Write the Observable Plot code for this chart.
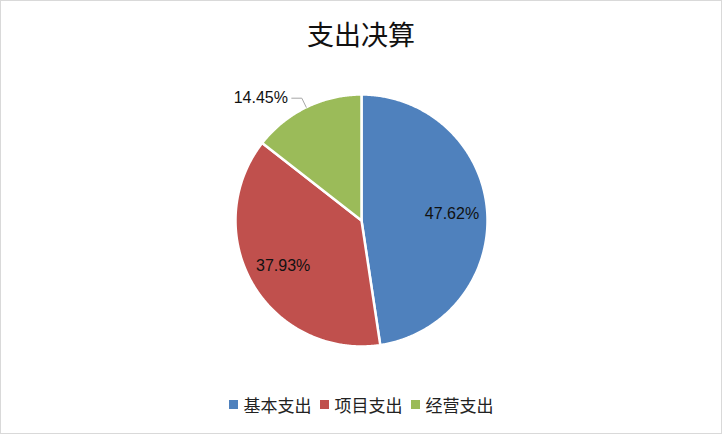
<!DOCTYPE html>
<html>
<head>
<meta charset="utf-8">
<script src="https://cdn.jsdelivr.net/npm/d3@7"></script>
<script src="https://cdn.jsdelivr.net/npm/@observablehq/plot@0.6"></script>
<style>
  html, body { margin: 0; padding: 0; background: #fff; }
  #chart { position: relative; width: 720px; height: 432px; border: 1px solid #d9d9d9; overflow: hidden; background: #fff; }
  #title { height: 66px; line-height: 66px; text-align: center; font-family: "Noto Sans CJK SC", sans-serif; font-size: 27px; color: #111; }
  #legend { display: flex; justify-content: center; align-items: center; gap: 8px; height: 58px; font-family: "Noto Sans CJK SC", sans-serif; font-size: 17px; color: #222; }
  .item { display: flex; align-items: center; gap: 6px; }
  .sw { width: 9px; height: 9px; display: inline-block; }
  svg { display: block; }
</style>
</head>
<body>
<div id="chart">
  <div id="title">支出决算</div>
  <div id="plot"></div>
  <div id="legend"></div>
</div>
<script>
const categories = ["基本支出", "项目支出", "经营支出"];
const values = [47.62, 37.93, 14.45];
const labels = ["47.62%", "37.93%", "14.45%"];
const colors = ["#4F81BD", "#C0504D", "#9BBB59"];

const W = 720, H = 308, R = 126, CX = 360, CY = 153;
const total = d3.sum(values);

// slice polygons (angle clockwise from 12 o'clock)
const slices = [];
let start = 0;
const pts = [];
values.forEach((v, i) => {
  const a0 = start, a1 = start + v / total * 2 * Math.PI;
  slices.push({name: categories[i], a0, a1, mid: (a0 + a1) / 2});
  pts.push({name: categories[i], x: 0, y: 0});
  const n = Math.max(2, Math.ceil((a1 - a0) / (Math.PI / 360)));
  for (let k = 0; k <= n; k++) {
    const a = a0 + (a1 - a0) * k / n;
    pts.push({name: categories[i], x: Math.sin(a), y: Math.cos(a)});
  }
  start = a1;
});

const inside = slices.slice(0, 2).map((s, i) => ({
  label: labels[i], x: 0.72 * Math.sin(s.mid), y: 0.72 * Math.cos(s.mid)
}));
const g = slices[2];
const e1 = {x: Math.sin(g.mid), y: Math.cos(g.mid)};
const e2 = {x: 1.08 * Math.sin(g.mid), y: 1.08 * Math.cos(g.mid)};
const e3 = {x: e2.x - 0.08, y: e2.y};
const leader = [e1, e2, e3];
const outside = [{label: labels[2], x: e3.x - 0.03, y: e3.y}];

const plot = Plot.plot({
  width: W, height: H,
  margin: 0,
  x: {domain: [-CX / R, (W - CX) / R], axis: null},
  y: {domain: [-(H - CY) / R, CY / R], axis: null},
  color: {domain: categories, range: colors},
  marks: [
    Plot.line(pts, {x: "x", y: "y", z: "name", fill: "name", stroke: "white", strokeWidth: 2.5, curve: "linear-closed", strokeLinejoin: "round"}),
    Plot.line(leader, {x: "x", y: "y", stroke: "#a6a6a6", strokeWidth: 1}),
    Plot.text(inside, {x: "x", y: "y", text: "label", fill: "#111", fontSize: 16, fontFamily: "Liberation Sans, Arial, sans-serif"}),
    Plot.text(outside, {x: "x", y: "y", text: "label", textAnchor: "end", fill: "#111", fontSize: 16, fontFamily: "Liberation Sans, Arial, sans-serif"})
  ]
});
document.getElementById("plot").appendChild(plot);

const legend = document.getElementById("legend");
categories.forEach((c, i) => {
  const it = document.createElement("span");
  it.className = "item";
  it.innerHTML = `<span class="sw" style="background:${colors[i]}"></span><span>${c}</span>`;
  legend.appendChild(it);
});
</script>
</body>
</html>
